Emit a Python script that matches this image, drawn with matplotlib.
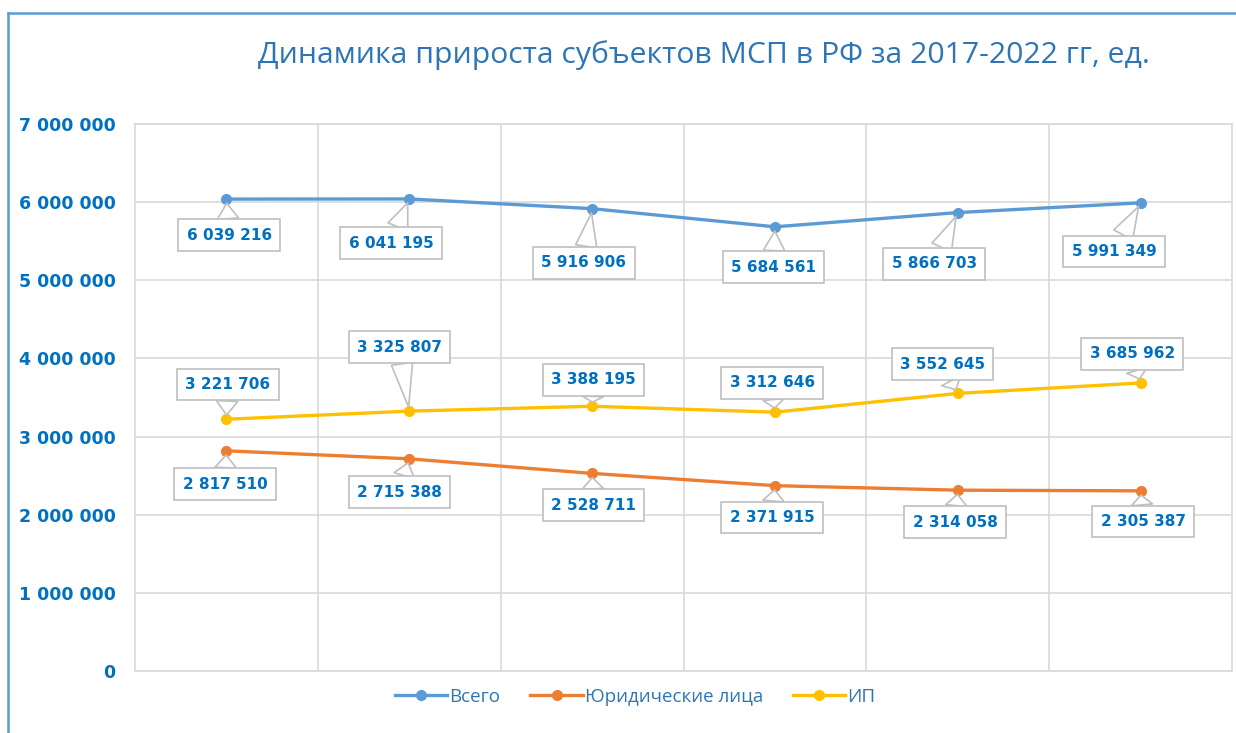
import matplotlib.pyplot as plt
from matplotlib.lines import Line2D
from matplotlib.ticker import FuncFormatter

years = [2017, 2018, 2019, 2020, 2021, 2022]
total = [6039216, 6041195, 5916906, 5684561, 5866703, 5991349]
legal = [2817510, 2715388, 2528711, 2371915, 2314058, 2305387]
ip = [3221706, 3325807, 3388195, 3312646, 3552645, 3685962]
series_names = ["Всего", "Юридические лица", "ИП"]
title = "Динамика прироста субъектов МСП в РФ за 2017-2022 гг, ед."

colors = ["#5B9BD5", "#ED7D31", "#FFC000"]
# label offsets (points) from each point, per series
offsets = [
    [(2, -26), (-13, -32), (-6, -39), (-1, -29), (-17, -37), (-19, -35)],
    [(-1, -24), (-7, -24), (1, -23), (-2, -23), (-2, -23), (2, -22)],
    [(1, 25), (-7, 46), (1, 19), (-2, 21), (-11, 21), (-6, 21)],
]

text_blue = "#0070C0"
grid_c = "#D9D9D9"


def fmt(v, pos=None):
    return f"{int(v):,}".replace(",", " ")


fig = plt.figure(figsize=(12.36, 7.33), dpi=100)
ax = fig.add_axes([0.1092, 0.0846, 0.8876, 0.7462])

x = list(range(len(years)))
for vals, name, c, offs in zip([total, legal, ip], series_names, colors, offsets):
    ax.plot(x, vals, color=c, lw=2.4, marker="o", ms=7, label=name, zorder=3)
    for xi, v, off in zip(x, vals, offs):
        ax.annotate(fmt(v), (xi, v), xytext=off, textcoords="offset points",
                    ha="center", va="center", fontsize=11, fontweight="bold",
                    color=text_blue, zorder=4,
                    bbox=dict(boxstyle="square,pad=0.55", fc="white", ec="#BFBFBF", lw=1.2),
                    arrowprops=dict(arrowstyle="wedge,tail_width=1.4", fc="white",
                                    ec="#BFBFBF", lw=1.2, shrinkA=0, shrinkB=3))

ax.set_xlim(-0.5, 5.5)
ax.set_ylim(0, 7000000)
ax.set_yticks(range(0, 7000001, 1000000))
ax.yaxis.set_major_formatter(FuncFormatter(fmt))
ax.set_xticks([i + 0.5 for i in range(5)])
ax.set_xticklabels([])
ax.tick_params(length=0)
ax.tick_params(axis="y", pad=14, labelcolor=text_blue)
for lab in ax.get_yticklabels():
    lab.set_fontweight("bold")
    lab.set_fontsize(12.5)
ax.grid(True, color=grid_c, lw=1.2)
ax.set_axisbelow(True)
for s in ax.spines.values():
    s.set_color(grid_c)
    s.set_linewidth(1.2)

fig.text(0.5696, 0.925, title, ha="center", va="center", fontsize=21.7,
         color="#2E75B6", family="Open Sans")

leg = ax.legend(loc="center", bbox_to_anchor=(0.456, -0.047), ncol=3, frameon=False,
                handlelength=2.8, columnspacing=1.6, handletextpad=0.1,
                prop={"family": "Open Sans", "size": 13.5})
for t in leg.get_texts():
    t.set_color("#2E75B6")

# outer frame (left and top edges)
fig.add_artist(Line2D([0.0068, 0.0068], [0, 0.982], color="#5B9BD5", lw=1.8))
fig.add_artist(Line2D([0.0068, 1.0], [0.982, 0.982], color="#5B9BD5", lw=1.8))

fig.savefig("out.png", dpi=100)
